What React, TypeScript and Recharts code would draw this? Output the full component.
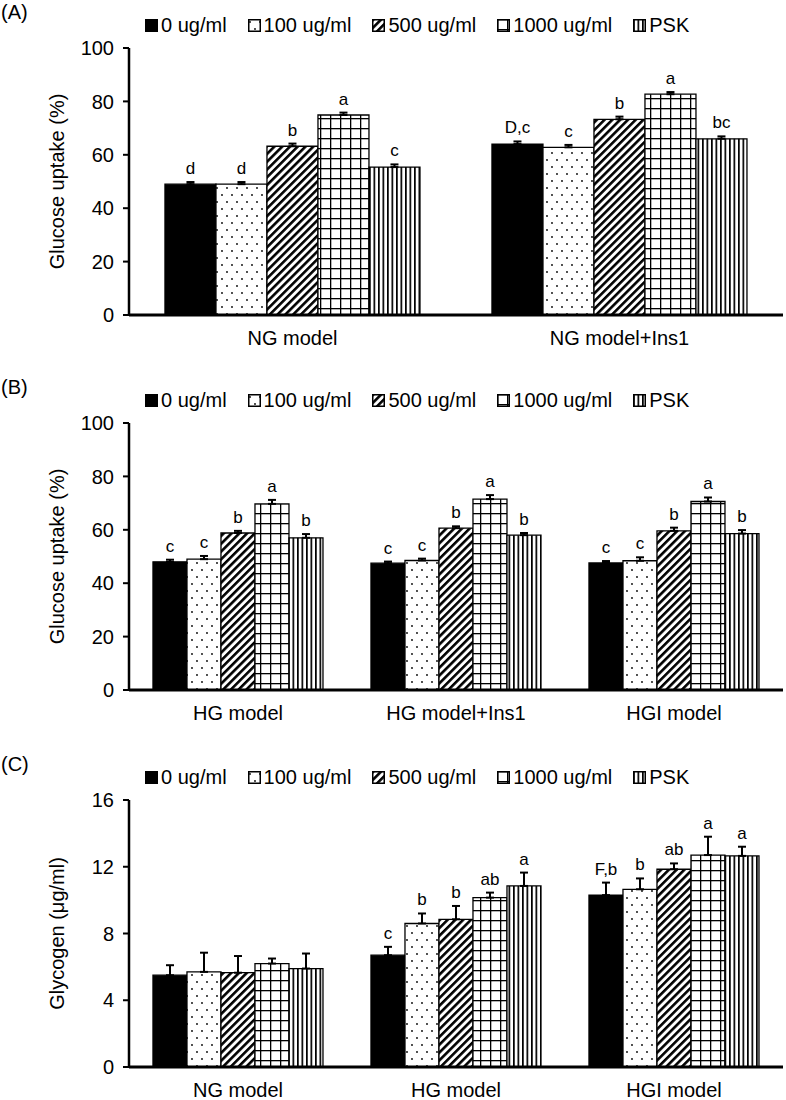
import React from 'react';
import { BarChart, Bar, XAxis, YAxis, ErrorBar, LabelList, Label } from 'recharts';

const SERIES = ['0 ug/ml', '100 ug/ml', '500 ug/ml', '1000 ug/ml', 'PSK'];
const FILLS = ['#000', 'url(#pDots)', 'url(#pDiag)', 'url(#pGrid)', 'url(#pVert)'];

// (A) glucose uptake, normal glucose
const A_CATS = ['NG model', 'NG model+Ins1'];
const A_MEANS = [[49.0, 64.0], [49.0, 62.8], [63.2, 73.3], [74.9, 82.7], [55.4, 66.0]];
const A_ERRS = [[0.8, 1.0], [0.8, 0.9], [1.0, 1.0], [0.9, 0.8], [1.0, 0.9]];
const A_LETTERS = [['d', 'D,c'], ['d', 'c'], ['b', 'b'], ['a', 'a'], ['c', 'bc']];
const A_TICKS = [0, 20, 40, 60, 80, 100];

// (B) glucose uptake, high glucose
const B_CATS = ['HG model', 'HG model+Ins1', 'HGI model'];
const B_MEANS = [[48.0, 47.5, 47.6], [49.0, 48.5, 48.4], [58.8, 60.6, 59.6], [69.7, 71.5, 70.6], [57.0, 58.0, 58.6]];
const B_ERRS = [[0.8, 0.6, 0.7], [1.2, 0.7, 1.3], [0.8, 0.7, 1.2], [1.5, 1.5, 1.5], [1.4, 0.8, 1.3]];
const B_LETTERS = [['c', 'c', 'c'], ['c', 'c', 'c'], ['b', 'b', 'b'], ['a', 'a', 'a'], ['b', 'b', 'b']];
const B_TICKS = [0, 20, 40, 60, 80, 100];

// (C) glycogen
const C_CATS = ['NG model', 'HG model', 'HGI model'];
const C_MEANS = [[5.5, 6.7, 10.3], [5.7, 8.6, 10.65], [5.65, 8.85, 11.85], [6.2, 10.15, 12.7], [5.9, 10.85, 12.65]];
const C_ERRS = [[0.6, 0.5, 0.75], [1.15, 0.6, 0.65], [1.0, 0.8, 0.35], [0.3, 0.3, 1.1], [0.9, 0.8, 0.55]];
const C_LETTERS = [['', 'c', 'F,b'], ['', 'b', 'b'], ['', 'b', 'ab'], ['', 'ab', 'a'], ['', 'a', 'a']];
const C_TICKS = [0, 4, 8, 12, 16];

const FONT = 'Liberation Sans, Arial, sans-serif';
const PLOT_H = 267;
const TXT = 20;

function buildRows(cats: string[], means: number[][], errs: number[][]) {
  return cats.map((cat, j) => {
    const row: any = { cat };
    means.forEach((m, i) => {
      row['v' + i] = m[j];
      row['e' + i] = [0, errs[i][j]];
    });
    return row;
  });
}

function Patterns() {
  return (
    <svg width={0} height={0} style={{ position: 'absolute' }}>
      <defs>
        <pattern id="pDots" width={10} height={14} patternUnits="userSpaceOnUse">
          <rect width={10} height={14} fill="#fff" />
          <circle cx={2} cy={3} r={0.9} fill="#000" />
          <circle cx={7} cy={10} r={0.9} fill="#000" />
        </pattern>
        <pattern id="pDiag" width={5.5} height={5.5} patternUnits="userSpaceOnUse" patternTransform="rotate(45)">
          <rect width={5.5} height={5.5} fill="#fff" />
          <rect width={2.6} height={5.5} fill="#000" />
        </pattern>
        <pattern id="pGrid" width={10} height={10} patternUnits="userSpaceOnUse">
          <rect width={10} height={10} fill="#fff" />
          <rect width={1.3} height={10} fill="#000" />
          <rect width={10} height={1.3} fill="#000" />
        </pattern>
        <pattern id="pVert" width={4.5} height={10} patternUnits="userSpaceOnUse">
          <rect width={4.5} height={10} fill="#fff" />
          <rect width={1.7} height={10} fill="#000" />
        </pattern>
      </defs>
    </svg>
  );
}

function LegendRow({ top }: { top: number }) {
  return (
    <div
      style={{
        position: 'absolute',
        top,
        left: 145,
        display: 'flex',
        alignItems: 'center',
        gap: 21,
        fontSize: TXT,
        fontFamily: FONT,
        lineHeight: '22px',
      }}
    >
      {SERIES.map((s, i) => (
        <div key={s} style={{ display: 'flex', alignItems: 'center', gap: 3 }}>
          <svg width={13} height={13}>
            <rect x={0.75} y={0.75} width={11.5} height={11.5} fill={FILLS[i]} stroke="#000" strokeWidth={1.5} />
          </svg>
          <span>{s}</span>
        </div>
      ))}
    </div>
  );
}

interface PanelProps {
  tag: string;
  plotTop: number;
  cats: string[];
  means: number[][];
  errs: number[][];
  letters: string[][];
  ticks: number[];
  yLabel: string;
}

function Panel({ tag, plotTop, cats, means, errs, letters, ticks, yLabel }: PanelProps) {
  const rows = buildRows(cats, means, errs);
  const renderLetter = (i: number) => (p: any) => {
    const { x, y, width, height, value, index } = p;
    const letter = letters[i][index];
    if (!letter) return null;
    const perUnit = height / value;
    const capY = y - errs[i][index] * perUnit;
    return (
      <text x={x + width / 2} y={capY - 8} textAnchor="middle" fontSize={17} fontFamily={FONT} fill="#000">
        {letter}
      </text>
    );
  };

  return (
    <>
      <div style={{ position: 'absolute', top: plotTop - 48, left: 1, fontSize: TXT, fontFamily: FONT, lineHeight: '24px' }}>
        {tag}
      </div>
      <LegendRow top={plotTop - 34} />
      <div style={{ position: 'absolute', top: plotTop - 10, left: 0 }}>
        <BarChart
          width={786}
          height={10 + PLOT_H + 45}
          data={rows}
          margin={{ top: 10, right: 3, left: 0, bottom: 0 }}
          barCategoryGap="11%"
          barGap={0}
        >
          <XAxis
            dataKey="cat"
            axisLine={{ stroke: '#000', strokeWidth: 3 }}
            tickLine={false}
            tickSize={0}
            tickMargin={16}
            height={45}
            tick={{ fill: '#000', fontSize: TXT, fontFamily: FONT }}
          />
          <YAxis
            width={129}
            domain={[ticks[0], ticks[ticks.length - 1]]}
            ticks={ticks}
            interval={0}
            axisLine={{ stroke: '#000', strokeWidth: 2.5 }}
            tickLine={{ stroke: '#000', strokeWidth: 2 }}
            tickSize={6}
            tickMargin={9}
            tick={{ fill: '#000', fontSize: TXT, fontFamily: FONT }}
          >
            <Label
              content={(p: any) => {
                const vb = p.viewBox || { y: 10, height: PLOT_H };
                return (
                  <text
                    transform={`translate(57, ${vb.y + vb.height / 2}) rotate(-90)`}
                    textAnchor="middle"
                    dominantBaseline="central"
                    fontSize={TXT}
                    fontFamily={FONT}
                    fill="#000"
                  >
                    {yLabel}
                  </text>
                );
              }}
            />
          </YAxis>
          {SERIES.map((s, i) => (
            <Bar
              key={s}
              dataKey={'v' + i}
              name={s}
              fill={FILLS[i]}
              stroke="#000"
              strokeWidth={1.3}
              isAnimationActive={false}
            >
              <ErrorBar dataKey={'e' + i} width={4} strokeWidth={2} stroke="#000" direction="y" />
              <LabelList dataKey={'v' + i} content={renderLetter(i)} />
            </Bar>
          ))}
        </BarChart>
      </div>
    </>
  );
}

export default function App() {
  return (
    <div style={{ position: 'absolute', top: 0, left: 0, width: 786, height: 1100, background: '#fff' }}>
      <Patterns />
      <Panel tag="(A)" plotTop={48} cats={A_CATS} means={A_MEANS} errs={A_ERRS} letters={A_LETTERS} ticks={A_TICKS} yLabel="Glucose uptake (%)" />
      <Panel tag="(B)" plotTop={423} cats={B_CATS} means={B_MEANS} errs={B_ERRS} letters={B_LETTERS} ticks={B_TICKS} yLabel="Glucose uptake (%)" />
      <Panel tag="(C)" plotTop={800} cats={C_CATS} means={C_MEANS} errs={C_ERRS} letters={C_LETTERS} ticks={C_TICKS} yLabel="Glycogen (μg/ml)" />
    </div>
  );
}
